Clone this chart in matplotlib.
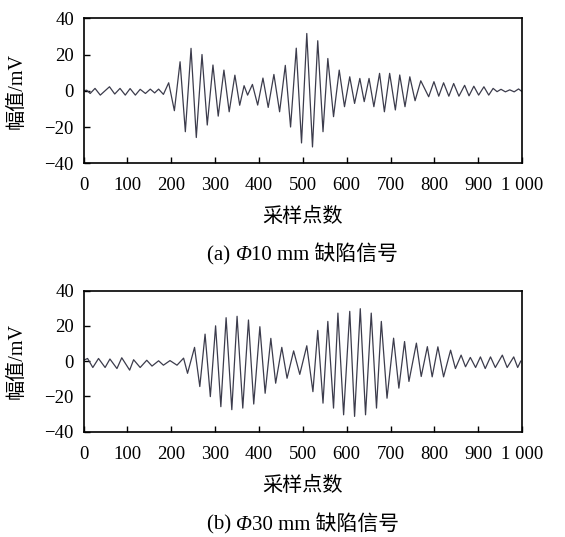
import numpy as np
import matplotlib
matplotlib.use("Agg")
import matplotlib.pyplot as plt
from matplotlib.offsetbox import TextArea, HPacker, AnchoredOffsetbox

plt.rcParams['font.family'] = ['Liberation Serif', 'Noto Sans CJK SC']
plt.rcParams['axes.unicode_minus'] = True

# (a) Φ10 mm 缺陷信号: 波峰/波谷 (采样点, 幅值 mV)
a_idx = [0, 7, 15, 26, 38, 48, 59, 71, 83, 95, 106, 118, 129, 141, 152, 162,
         171, 182, 194, 207, 220, 232, 245, 257, 270, 282, 295, 307, 320, 332,
         345, 356, 366, 374, 385, 397, 409, 421, 434, 447, 460, 472, 485, 497,
         509, 522, 534, 546, 557, 570, 583, 595, 607, 618, 630, 640, 651, 662,
         675, 686, 698, 711, 721, 733, 744, 756, 769, 787, 799, 810, 821, 833,
         844, 856, 869, 879, 890, 901, 913, 924, 934, 943, 952, 962, 972, 982,
         992, 1000]
a_amp = [0, 0.3, -1.5, 1.3, -2.4, -0.2, 2.2, -1.8, 1.3, -2.4, 1.2, -2.4, 0.8,
         -1.5, 0.9, -1.2, 0.9, -2.0, 4.4, -11, 16, -22.6, 23.4, -25.8, 20,
         -18.9, 14.2, -14, 11.4, -11.6, 8.6, -8, 2.8, -2.4, 3.5, -7.9, 7, -9.2,
         9, -11.6, 14, -20, 23.5, -28.8, 31.6, -31, 27.6, -22.6, 17.8, -14.3,
         11.4, -8.8, 7.7, -7, 6.8, -6, 6.8, -8.8, 9.6, -11.6, 9.6, -10.6, 8.7,
         -8.8, 7.7, -5.5, 5.5, -3.3, 5, -3, 4.4, -3, 4, -3, 3, -2.8, 2.5, -2.4,
         2.2, -2.4, 1.3, -0.5, 0.8, -0.6, 0.5, -0.6, 1, -0.5]

# (b) Φ30 mm 缺陷信号
b_idx = [0, 9, 21, 34, 49, 60, 76, 87, 105, 114, 129, 144, 156, 171, 182, 197,
         213, 228, 237, 253, 265, 277, 289, 301, 313, 325, 338, 350, 363, 376,
         388, 402, 414, 427, 438, 452, 464, 479, 493, 509, 523, 534, 546, 557,
         570, 580, 593, 607, 618, 631, 643, 656, 668, 679, 692, 707, 719, 732,
         742, 759, 770, 784, 795, 808, 821, 837, 848, 861, 871, 882, 894, 905,
         916, 928, 939, 955, 966, 981, 990, 997]
b_amp = [0.5, 1.5, -3.6, 1.5, -3.6, 1.2, -4.2, 1.9, -5.1, 0.8, -3.6, 0.5, -2.8,
         0.2, -2.3, 0.3, -2.3, 1.7, -6.9, 7.8, -14.4, 15.3, -20.1, 20, -25.8,
         24.6, -27.5, 25.4, -26.6, 23.3, -24.3, 19.5, -18.2, 12.9, -12.5, 7.8,
         -9.7, 5.8, -7.5, 8.7, -17.3, 17.4, -23.8, 22.5, -26.6, 27.2, -30.4,
         28.2, -31.3, 29.7, -30.4, 27.2, -26.6, 22.5, -21, 13, -15.3, 11.1,
         -11.5, 10.2, -8.7, 8.2, -8.9, 8.1, -8.9, 6.2, -4.2, 3.4, -3.2, 2.1,
         -3.6, 2.4, -4.2, 2.4, -3.6, 3.4, -3.6, 2.4, -3.6, 0]

xticks = [0, 100, 200, 300, 400, 500, 600, 700, 800, 900, 1000]
xticklabels = ['0', '100', '200', '300', '400', '500', '600', '700', '800',
               '900', '1 000']
yticks = [-40, -20, 0, 20, 40]
captions = [('(a) ', '10 mm 缺陷信号'), ('(b) ', '30 mm 缺陷信号')]

fig = plt.figure(figsize=(5.65, 5.37), dpi=100)
boxes = [[0.148, 0.696, 0.776, 0.270], [0.148, 0.196, 0.776, 0.263]]
data = [(a_idx, a_amp), (b_idx, b_amp)]
cap_y = [-0.635, -0.66]

for box, (xs, ys), cap, cy in zip(boxes, data, captions, cap_y):
    ax = fig.add_axes(box)
    ax.plot(xs, ys, color='#3c3c4c', lw=0.9)
    ax.set_xlim(0, 1000)
    ax.set_ylim(-40, 40)
    ax.set_xticks(xticks)
    ax.set_xticklabels(xticklabels)
    ax.set_yticks(yticks)
    ax.tick_params(direction='in', length=4, width=1, labelsize=13.5,
                   top=False, right=False)
    ax.tick_params(axis='x', pad=10)
    ax.tick_params(axis='y', pad=7)
    for sp in ax.spines.values():
        sp.set_linewidth(1.2)
    ax.set_xlabel('采样点数', fontsize=14.5, labelpad=10)
    ax.set_ylabel('幅值/mV', fontsize=14.5, labelpad=13)

    # 图注: Φ 用斜体
    props = dict(fontsize=15, family=['Liberation Serif', 'Noto Sans CJK SC'])
    parts = [TextArea(cap[0], textprops=props),
             TextArea('Φ', textprops=dict(props, style='italic')),
             TextArea(cap[1], textprops=props)]
    pack = HPacker(children=parts, align='baseline', pad=0, sep=0)
    anch = AnchoredOffsetbox(loc='center', child=pack, frameon=False,
                             bbox_to_anchor=(0.5, cy),
                             bbox_transform=ax.transAxes, borderpad=0, pad=0)
    ax.add_artist(anch)

fig.savefig('out.png', dpi=100)
